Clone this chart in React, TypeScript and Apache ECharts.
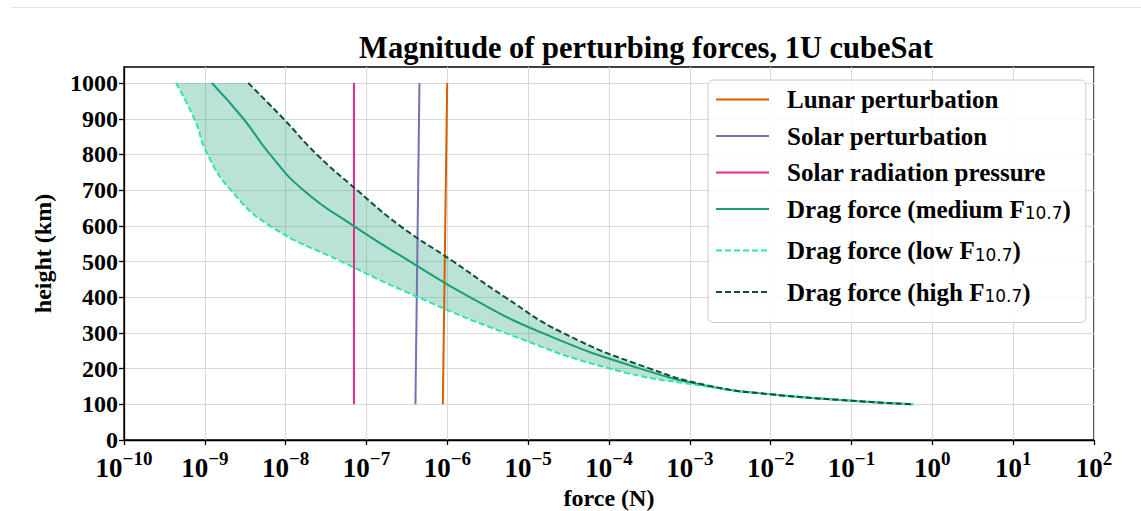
import React, { useEffect, useRef } from 'react';
import * as echarts from 'echarts';

// ---------- data ----------
const heightTicks = [0, 100, 200, 300, 400, 500, 600, 700, 800, 900, 1000];
const forceExponents = [-10, -9, -8, -7, -6, -5, -4, -3, -2, -1, 0, 1, 2];

const lunarForce = [8.8e-7, 9.96e-7];
const lunarHeight = [100, 1000];
const solarForce = [4.03e-7, 4.52e-7];
const solarHeight = [100, 1000];
const srpForce = [7.0e-8, 7.0e-8];
const srpHeight = [100, 1000];

const dragHeights = [1000, 900, 800, 700, 600, 500, 400, 300, 200, 150, 128, 110, 100];
const dragMedium = [1.22e-9, 3.0e-9, 6.4e-9, 1.66e-8, 6.9e-8, 3.47e-7, 1.9e-6, 1.49e-5, 2.43e-4, 1.8e-3, 1.0e-2, 0.1, 0.58];
const dragLow = [4.4e-10, 7.4e-10, 1.08e-9, 2.1e-9, 6.4e-9, 4.9e-8, 4.35e-7, 5.2e-6, 1.03e-4, 1.6e-3, 1.0e-2, 0.1, 0.58];
const dragHigh = [3.45e-9, 9.4e-9, 2.43e-8, 7.66e-8, 2.6e-7, 1.19e-6, 5.2e-6, 2.7e-5, 3.2e-4, 1.9e-3, 1.0e-2, 0.1, 0.58];

const NAMES = [
  'Lunar perturbation',
  'Solar perturbation',
  'Solar radiation pressure',
  'Drag force (medium F10.7)',
  'Drag force (low F10.7)',
  'Drag force (high F10.7)',
];

const SERIF = '"Liberation Serif", "DejaVu Serif", serif';
const SANS = '"DejaVu Sans", sans-serif';
const SMOOTH = 0.5;

// x axis works in log10(force)
const pairs = (xs: number[], ys: number[]) => xs.map((x, i) => [Math.log10(x), ys[i]]);

// Same smoothing scheme as ECharts line series, sampled to a polyline (pixel space)
function smoothPolyline(pts: number[][], smooth: number): number[][] {
  const out: number[][] = [pts[0]];
  const n = pts.length;
  let cpx0 = pts[0][0], cpy0 = pts[0][1];
  let prevX = pts[0][0], prevY = pts[0][1];
  for (let i = 1; i < n; i++) {
    const x = pts[i][0], y = pts[i][1];
    let cpx1: number, cpy1: number, nx0: number, ny0: number;
    if (i === n - 1) {
      cpx1 = x; cpy1 = y; nx0 = x; ny0 = y;
    } else {
      const nextX = pts[i + 1][0], nextY = pts[i + 1][1];
      let vx = nextX - prevX, vy = nextY - prevY;
      const lenPrev = Math.hypot(x - prevX, y - prevY);
      const lenNext = Math.hypot(nextX - x, nextY - y);
      const ratio = lenNext / (lenNext + lenPrev);
      nx0 = x + vx * smooth * ratio;
      ny0 = y + vy * smooth * ratio;
      nx0 = Math.max(Math.min(nx0, Math.max(nextX, x)), Math.min(nextX, x));
      ny0 = Math.max(Math.min(ny0, Math.max(nextY, y)), Math.min(nextY, y));
      vx = nx0 - x; vy = ny0 - y;
      cpx1 = x - vx * lenPrev / lenNext;
      cpy1 = y - vy * lenPrev / lenNext;
      cpx1 = Math.max(Math.min(cpx1, Math.max(prevX, x)), Math.min(prevX, x));
      cpy1 = Math.max(Math.min(cpy1, Math.max(prevY, y)), Math.min(prevY, y));
      vx = x - cpx1; vy = y - cpy1;
      nx0 = x + vx * lenNext / lenPrev;
      ny0 = y + vy * lenNext / lenPrev;
    }
    const p0x = prevX, p0y = prevY;
    const N = 16;
    for (let s = 1; s <= N; s++) {
      const t = s / N, u = 1 - t;
      const bx = u * u * u * p0x + 3 * u * u * t * cpx0 + 3 * u * t * t * cpx1 + t * t * t * x;
      const by = u * u * u * p0y + 3 * u * u * t * cpy0 + 3 * u * t * t * cpy1 + t * t * t * y;
      out.push([bx, by]);
    }
    cpx0 = nx0; cpy0 = ny0; prevX = x; prevY = y;
  }
  return out;
}

export default function App() {
  const ref = useRef<HTMLDivElement>(null);

  useEffect(() => {
    document.body.style.margin = '0';
    if (!ref.current) return;
    const chart = echarts.init(ref.current, undefined, { renderer: 'svg' });

    const lineSeries = (name: string, data: number[][], color: string, dashed = false, z = 3) => ({
      type: 'line',
      name,
      data,
      symbol: 'none',
      showSymbol: false,
      smooth: SMOOTH,
      z,
      lineStyle: { color, width: 2, type: dashed ? [6, 3] : 'solid' },
      itemStyle: { color },
      emphasis: { disabled: true },
    });

    const legendFmt = (name: string) => {
      const m = name.match(/^(.*F)10\.7\)$/);
      if (m) return `{c|${m[1]}}{sub|10.7}{d|)}`;
      return `{a|${name}}`;
    };

    const option: any = {
      animation: false,
      grid: {
        left: 124,
        top: 67,
        width: 970,
        height: 373,
        show: true,
        borderColor: '#000',
        borderWidth: 1.3,
        backgroundColor: 'transparent',
        outerBoundsMode: 'none',
        containLabel: false,
      },
      graphic: [
        {
          type: 'line',
          shape: { x1: 12, y1: 7.5, x2: 1141, y2: 7.5 },
          style: { stroke: '#e0e0e0', lineWidth: 1 },
        },
        {
          type: 'text',
          x: 646,
          y: 48,
          style: {
            text: 'Magnitude of perturbing forces, 1U cubeSat',
            font: `bold 30.5px ${SERIF}`,
            fill: '#000',
            textAlign: 'center',
            textVerticalAlign: 'middle',
          },
        },
      ],
      legend: {
        orient: 'vertical',
        left: 708,
        top: 80,
        padding: [7, 15, 13, 7],
        itemGap: 11.5,
        itemWidth: 53,
        itemHeight: 14,
        itemStyle: { opacity: 0 },
        backgroundColor: 'rgba(255,255,255,0.8)',
        borderColor: '#cccccc',
        borderWidth: 1,
        borderRadius: 5,
        data: NAMES,
        formatter: legendFmt,
        textStyle: {
          fontFamily: SERIF,
          fontWeight: 'bold',
          fontSize: 25,
          color: '#000',
          rich: {
            a: { fontFamily: SERIF, fontWeight: 'bold', fontSize: 25, color: '#000', lineHeight: 27, padding: [0, 0, 0, 13] },
            c: { fontFamily: SERIF, fontWeight: 'bold', fontSize: 25, color: '#000', lineHeight: 35, padding: [0, 0, 0, 13] },
            d: { fontFamily: SERIF, fontWeight: 'bold', fontSize: 25, color: '#000', lineHeight: 35 },
            sub: { fontFamily: SANS, fontWeight: 'normal', fontSize: 17, color: '#000', lineHeight: 17, verticalAlign: 'bottom', padding: [0, 0, 5, 0] },
          },
        },
      },
      xAxis: {
        type: 'value',
        min: -10,
        max: 2,
        interval: 1,
        name: 'force (N)',
        nameLocation: 'middle',
        nameGap: 42,
        nameTextStyle: { fontFamily: SERIF, fontWeight: 'bold', fontSize: 24, color: '#000' },
        axisLine: { show: true, onZero: false, lineStyle: { color: '#000', width: 1.3 } },
        axisTick: { show: true, length: 5, inside: false, customValues: forceExponents, lineStyle: { color: '#000', width: 1.3 } },
        splitLine: { show: true, lineStyle: { color: '#d9d9d9', width: 1 } },
        axisLabel: {
          customValues: forceExponents,
          margin: 9,
          showMinLabel: true,
          showMaxLabel: true,
          hideOverlap: false,
          formatter: (v: number) => {
            const e = Math.round(v);
            return `{b|10}{s|${e < 0 ? '\u2212' : ''}${Math.abs(e)}}`;
          },
          rich: {
            b: { fontFamily: SERIF, fontWeight: 'bold', fontSize: 27, color: '#000', lineHeight: 38 },
            s: { fontFamily: SERIF, fontWeight: 'bold', fontSize: 19, color: '#000', lineHeight: 19, verticalAlign: 'top' },
          },
        },
      },
      yAxis: {
        type: 'value',
        min: 0,
        max: 1045,
        interval: 100,
        name: 'height (km)',
        nameLocation: 'middle',
        nameRotate: 90,
        nameGap: 69,
        nameTextStyle: { fontFamily: SERIF, fontWeight: 'bold', fontSize: 24, color: '#000' },
        axisLine: { show: true, onZero: false, lineStyle: { color: '#000', width: 1.3 } },
        axisTick: { show: true, length: 5, customValues: heightTicks, lineStyle: { color: '#000', width: 1.3 } },
        splitLine: { show: true, lineStyle: { color: '#d9d9d9', width: 1 } },
        axisLabel: {
          customValues: heightTicks,
          margin: 6,
          formatter: (v: number) => String(v),
          fontFamily: SERIF,
          fontWeight: 'bold',
          fontSize: 24,
          color: '#000',
        },
      },
      series: [
        {
          type: 'custom',
          name: 'band',
          coordinateSystem: 'cartesian2d',
          silent: true,
          z: 1,
          data: [[Math.log10(dragLow[0]), dragHeights[0]]],
          renderItem: (_params: any, api: any) => {
            const hi = dragHeights.map((h, i) => api.coord([Math.log10(dragHigh[i]), h]));
            const lo = dragHeights.map((h, i) => api.coord([Math.log10(dragLow[i]), h]));
            const hiS = smoothPolyline(hi, SMOOTH);
            const loS = smoothPolyline(lo, SMOOTH).reverse();
            return {
              type: 'polygon',
              shape: { points: hiS.concat(loS) },
              style: { fill: 'rgba(27,158,119,0.3)' },
            };
          },
        },
        lineSeries(NAMES[0], pairs(lunarForce, lunarHeight), '#d95f02'),
        lineSeries(NAMES[1], pairs(solarForce, solarHeight), '#7570b3'),
        lineSeries(NAMES[2], pairs(srpForce, srpHeight), '#e7298a'),
        lineSeries(NAMES[3], pairs(dragMedium, dragHeights), '#1b9e77', false, 4),
        lineSeries(NAMES[4], pairs(dragLow, dragHeights), '#2ee6a8', true, 4),
        lineSeries(NAMES[5], pairs(dragHigh, dragHeights), '#114f3d', true, 5),
      ],
    };

    chart.setOption(option);
    return () => chart.dispose();
  }, []);

  return <div ref={ref} style={{ width: 1141, height: 511 }} />;
}
